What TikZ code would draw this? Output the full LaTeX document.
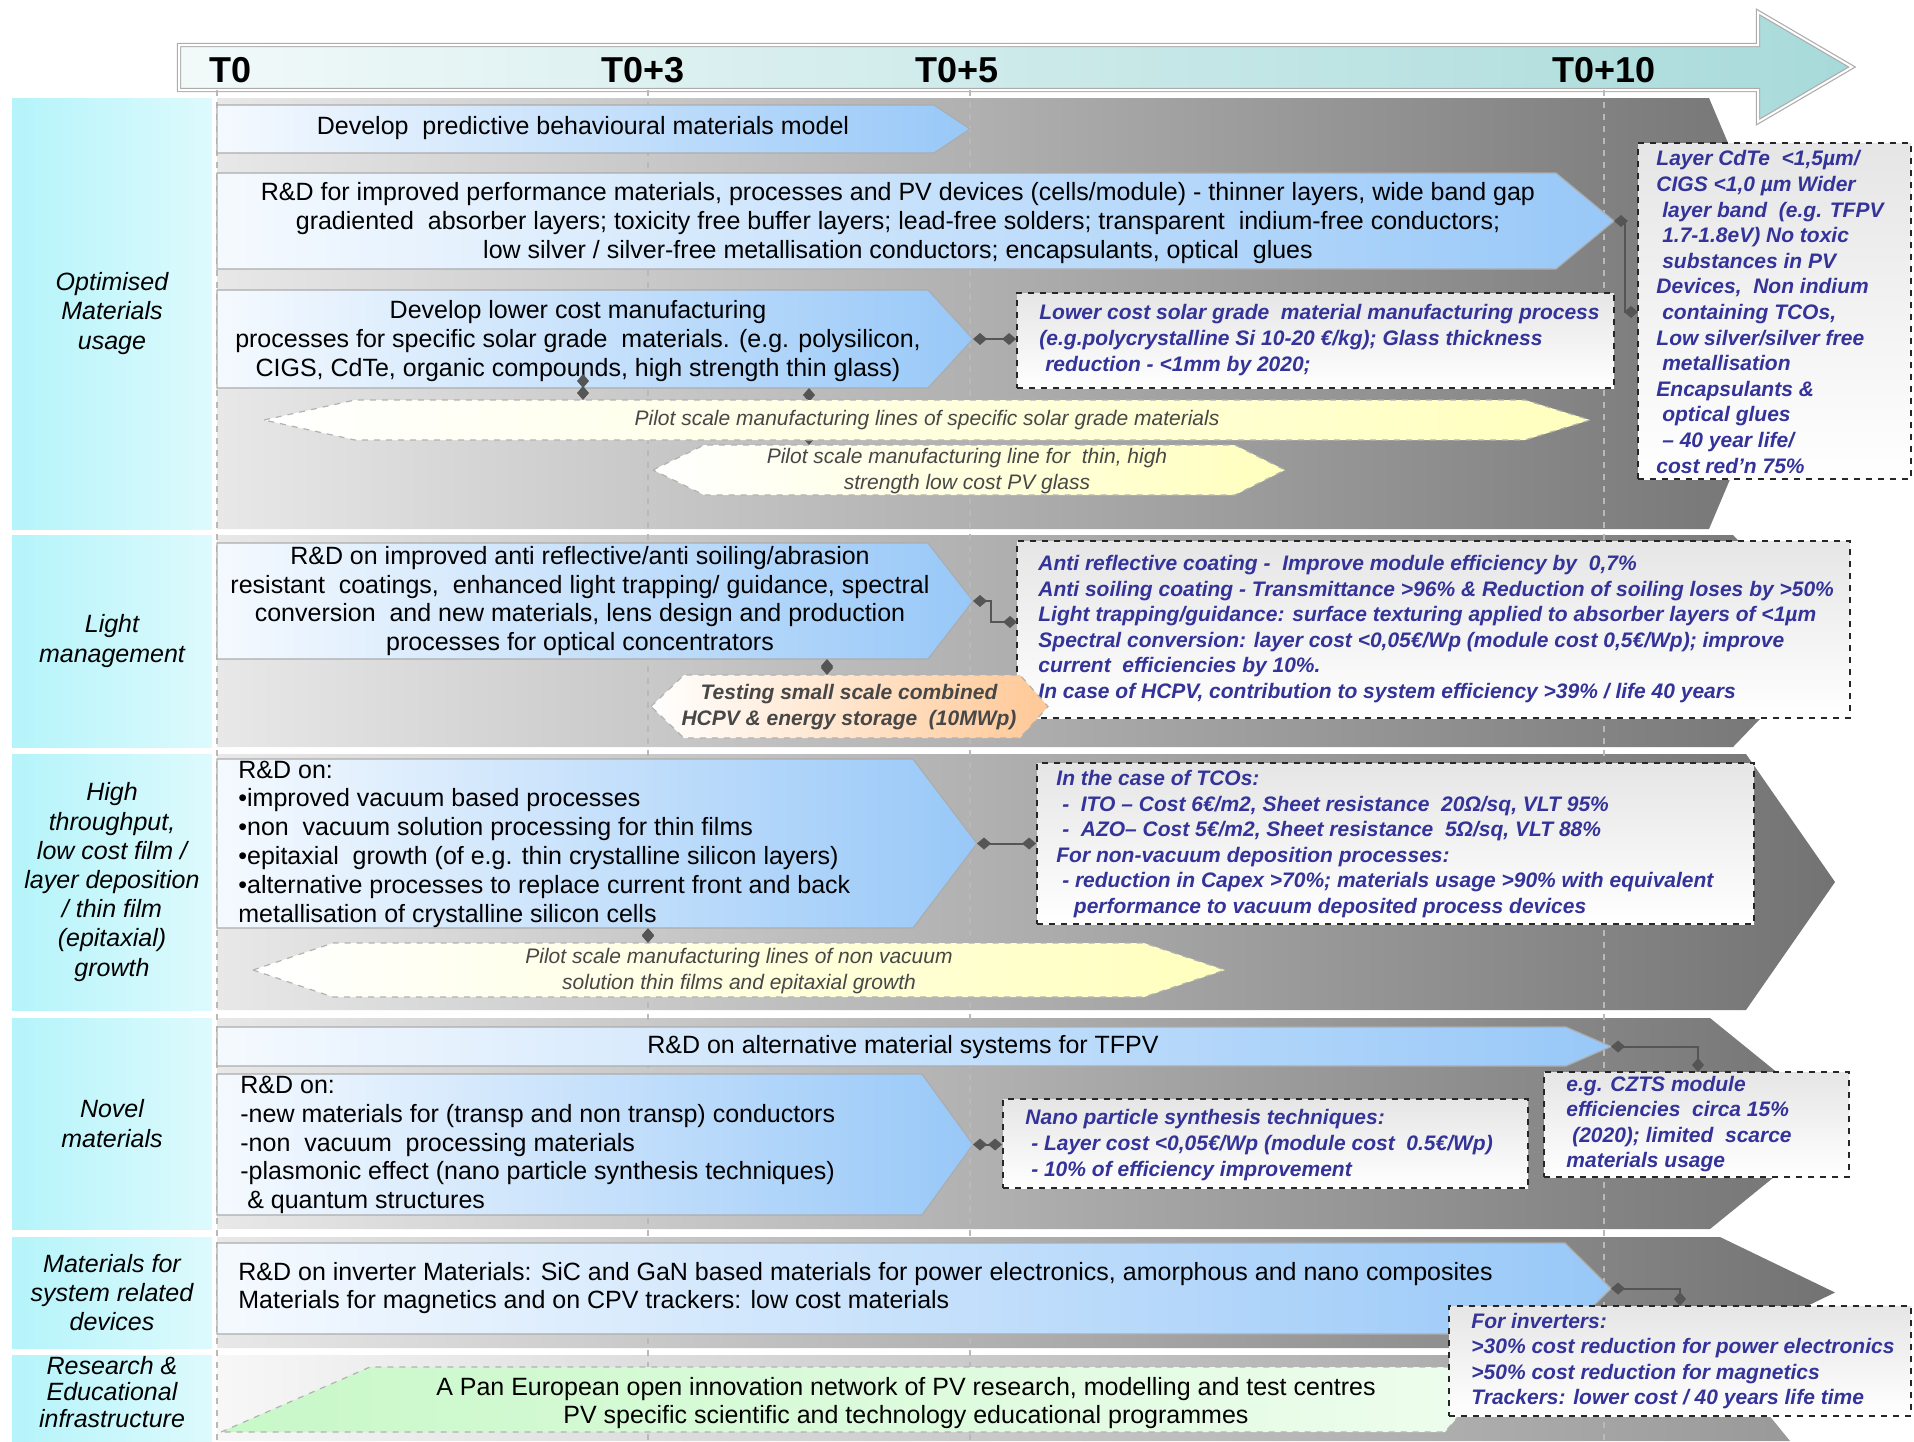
\documentclass[tikz,border=0pt]{standalone}
\usepackage{fontspec}
\setmainfont{Liberation Sans}
\usetikzlibrary{arrows.meta,fit,calc}

\definecolor{notenavy}{RGB}{51,51,153}
\definecolor{taskblue}{RGB}{152,200,248}
\definecolor{rowcyan}{RGB}{180,244,250}
\definecolor{timecyan}{RGB}{168,218,218}
\definecolor{pilotyellow}{RGB}{255,255,190}
\definecolor{testorange}{RGB}{255,200,150}
\definecolor{netgreen}{RGB}{200,248,200}
\definecolor{linkgray}{RGB}{85,85,85}

% arrow-like box: style, left x, top y, corner x, tip x, bottom y
\newcommand{\penta}[6]{\path[#1] (#2,#3) -- (#4,#3) -- (#5,{(#3+#6)/2}) -- (#4,#6) -- (#2,#6) -- cycle;}
% hexagon: style, left tip x, left corner x, right corner x, right tip x, top y, bottom y
\newcommand{\hexa}[7]{\path[#1] (#2,{(#6+#7)/2}) -- (#3,#6) -- (#4,#6) -- (#5,{(#6+#7)/2}) -- (#4,#7) -- (#3,#7) -- cycle;}

\begin{document}
\begin{tikzpicture}[x=0.5pt, y=-0.5pt,
    every node/.style={inner sep=0pt},
    timeline/.style={draw=gray!65, double=white, double distance=1pt, line width=0.6pt, left color=timecyan!15, right color=timecyan},
    tick/.style={font=\fontsize{18}{18}\selectfont\bfseries},
    band/.style={left color=black!9, right color=black!55},
    milestone/.style={draw=gray!55, dashed, line width=0.9pt},
    rowlabel/.style={left color=rowcyan, right color=rowcyan!45},
    labeltxt/.style={font=\fontsize{12.5}{14.6}\selectfont\itshape, align=center},
    task/.style={draw=gray!65, line width=0.6pt, left color=taskblue!10, right color=taskblue},
    tasktxt/.style={font=\fontsize{12.5}{14.4}\selectfont, align=center},
    tasklist/.style={tasktxt, align=left, anchor=west},
    note/.style={draw=black!85, dashed, line width=0.9pt, top color=black!10, bottom color=white},
    notetxt/.style={font=\fontsize{10.5}{12.8}\selectfont\bfseries\itshape, text=notenavy, align=left, anchor=west},
    pilot/.style={draw=gray!60, dashed, line width=0.6pt, left color=white, right color=pilotyellow},
    testing/.style={pilot, right color=testorange},
    network/.style={pilot, left color=netgreen, right color=netgreen!30},
    pilottxt/.style={font=\fontsize{10.5}{13.4}\selectfont\itshape, text=black!72, align=center},
    link/.style={draw=linkgray, line width=1pt, {Diamond[length=7pt,width=6pt]}-{Diamond[length=7pt,width=6pt]}}
]
\useasboundingbox (0,0) rectangle (1914,1441);

% time axis
\path[timeline] (179,45) -- (1758,45) -- (1758,12) -- (1852,67) -- (1758,122) -- (1758,90) -- (179,90) -- cycle;
\node[tick] (t0) at (231,70) {T0};
\node[tick] (t3) at (643,70) {T0+3};
\node[tick] (t5) at (957,70) {T0+5};
\node[tick] (t10) at (1604,70) {T0+10};

% row backgrounds
\penta{band}{217}{98}{1709}{1800}{529}
\penta{band}{217}{535}{1733}{1835}{747}
\penta{band}{217}{754}{1746}{1835}{1010}
\penta{band}{217}{1018}{1710}{1840}{1229}
\penta{band}{217}{1237}{1720}{1835}{1348}
\path[band, left color=black!3, right color=black!40] (217,1355) -- (1720,1355) -- (1790,1441) -- (217,1441) -- cycle;

\foreach \x in {217,648,970,1604}
    \draw[milestone] (\x,90) -- (\x,1441);

% row labels
\node[rowlabel, fit={(12,98) (212,529)}] (lopt) {};
\node[labeltxt] at (lopt.center) {Optimised\\Materials\\usage};
\node[rowlabel, fit={(12,535) (212,747)}] (llight) {};
\node[labeltxt] at (llight.center) {Light\\management};
\node[rowlabel, fit={(12,754) (212,1010)}] (lfilm) {};
\node[labeltxt] at (lfilm.center) {High\\throughput,\\low cost film /\\layer deposition\\/ thin film\\(epitaxial)\\growth};
\node[rowlabel, fit={(12,1018) (212,1229)}] (lnovel) {};
\node[labeltxt] at (lnovel.center) {Novel\\materials};
\node[rowlabel, fit={(12,1237) (212,1348)}] (lsys) {};
\node[labeltxt] at (lsys.center) {Materials for\\system related\\devices};
\node[rowlabel, fit={(12,1355) (212,1441)}] (lres) {};
\node[labeltxt, font=\fontsize{12.5}{13.4}\selectfont\itshape] at ([yshift=3pt]lres.center) {Research \&\\Educational\\infrastructure};

% optimised materials usage
\penta{task}{217}{105}{934}{970}{153}
\node[tasktxt] (a1) at (583,128) {Develop\ \ predictive behavioural materials model};

\penta{task}{217}{173}{1556}{1614}{269}
\coordinate (a2tip) at (1614,221);
\node[tasktxt] (a2) at (898,223) {R\&D for improved performance materials, processes and PV devices (cells/module) - thinner layers, wide band gap\\gradiented\ \ absorber layers; toxicity free buffer layers; lead-free solders; transparent\ \ indium-free conductors;\\low silver / silver-free metallisation conductors; encapsulants, optical\ \ glues};

\penta{task}{217}{290}{928}{973}{388}
\coordinate (a3tip) at (973,339);
\node[tasktxt] (a3) at (578,341) {Develop lower cost manufacturing\\processes for specific solar grade\ \ materials. (e.g. polysilicon,\\CIGS, CdTe, organic compounds, high strength thin glass)};

\node[note, fit={(1017,293) (1614,388)}] (b1) {};
\node[notetxt] (b1txt) at (1039,340) {Lower cost solar grade\ \ material manufacturing process\\(e.g.polycrystalline Si 10-20 €/kg); Glass thickness\\\ reduction - <1mm by 2020;};

\node[note, fit={(1638,143) (1911,479)}] (c1) {};
\node[notetxt] (c1txt) at (1656,312) {Layer CdTe\ \ <1,5µm/\\CIGS <1,0 µm Wider\\\ layer band\ \ (e.g. TFPV\\\ 1.7-1.8eV) No toxic\\\ substances in PV\\Devices,\ \ Non indium\\\ containing TCOs,\\Low silver/silver free\\\ metallisation\\Encapsulants \&\\\ optical glues\\\ – 40 year life/\\cost red'n 75\%};
\coordinate (c1in) at (1638,312);

\hexa{pilot}{653}{704}{1235}{1285}{445}{495}
\node[pilottxt] (y2) at (967,471) {Pilot scale manufacturing line for\ \ thin, high\\strength low cost PV glass};
\coordinate (a3e) at (809,388);
\coordinate (y2n) at (809,445);
\draw[link] (a3e) -- (y2n);

\hexa{pilot}{264}{355}{1525}{1590}{400}{440}
\node[pilottxt] (y1) at (927,420) {Pilot scale manufacturing lines of specific solar grade materials};
\coordinate (a3s) at (583,388);
\coordinate (y1n) at (583,400);
\draw[link] (a3s) -- (y1n);

\draw[link] (a2tip) -- ++(11,0) |- (c1in);
\draw[link] (a3tip) -- (a3tip -| b1.west);

% light management
\penta{task}{217}{543}{928}{973}{659}
\coordinate (a4tip) at (973,601);
\node[tasktxt] (a4) at (580,601) {R\&D on improved anti reflective/anti soiling/abrasion\\resistant\ \ coatings,\ \ enhanced light trapping/ guidance, spectral\\conversion\ \ and new materials, lens design and production\\processes for optical concentrators};

\node[note, fit={(1017,541) (1850,718)}] (b2) {};
\node[notetxt] (b2txt) at (1038,629) {Anti reflective coating -\ \ Improve module efficiency by\ \ 0,7\%\\Anti soiling coating - Transmittance >96\% \& Reduction of soiling loses by >50\%\\Light trapping/guidance: surface texturing applied to absorber layers of <1µm\\Spectral conversion: layer cost <0,05€/Wp (module cost 0,5€/Wp); improve\\current\ \ efficiencies by 10\%.\\In case of HCPV, contribution to system efficiency >39\% / life 40 years};
\coordinate (b2in) at (1017,622);
\draw[link] (a4tip) -- ++(18,0) |- (b2in);

\hexa{testing}{651}{684}{1020}{1048}{675}{738}
\node[pilottxt, font=\fontsize{10.5}{13.4}\selectfont\bfseries\itshape] (o1) at (849,707) {Testing small scale combined\\HCPV \& energy storage\ \ (10MWp)};
\coordinate (a4s) at (827,659);
\coordinate (o1n) at (827,675);
\draw[link] (a4s) -- (o1n);

% high throughput film deposition
\penta{task}{217}{759}{913}{977}{928}
\coordinate (a5tip) at (977,843.5);
\node[tasklist] (a5) at (238,844) {R\&D on:\\•improved vacuum based processes\\•non\ \ vacuum solution processing for thin films\\•epitaxial\ \ growth (of e.g. thin crystalline silicon layers)\\•alternative processes to replace current front and back\\metallisation of crystalline silicon cells};

\node[note, fit={(1037,763) (1754,924)}] (b3) {};
\node[notetxt] (b3txt) at (1056,844) {In the case of TCOs:\\\ -\ \ ITO – Cost 6€/m2, Sheet resistance\ \ 20Ω/sq, VLT 95\%\\\ -\ \ AZO– Cost 5€/m2, Sheet resistance\ \ 5Ω/sq, VLT 88\%\\For non-vacuum deposition processes:\\\ - reduction in Capex >70\%; materials usage >90\% with equivalent\\\ \ \ performance to vacuum deposited process devices};
\draw[link] (a5tip) -- (a5tip -| b3.west);

\hexa{pilot}{253}{333}{1144}{1225}{943}{997}
\node[pilottxt] (y3) at (739,971) {Pilot scale manufacturing lines of non vacuum\\solution thin films and epitaxial growth};
\coordinate (a5s) at (648,928);
\coordinate (y3n) at (648,943);
\draw[link] (a5s) -- (y3n);

% novel materials
\penta{task}{217}{1027}{1566}{1611}{1066}
\coordinate (a6tip) at (1611,1046.5);
\node[tasktxt] (a6) at (903,1047) {R\&D on alternative material systems for TFPV};

\node[note, fit={(1544,1072) (1849,1177)}] (c2) {};
\node[notetxt] (c2txt) at (1566,1124) {e.g. CZTS module\\efficiencies\ \ circa 15\%\\\ (2020); limited\ \ scarce\\materials usage};
\coordinate (c2n) at (1698,1072);
\draw[link] (a6tip) -| (c2n);

\penta{task}{217}{1074}{922}{973}{1215}
\coordinate (a7tip) at (973,1144.5);
\node[tasklist] (a7) at (240,1145) {R\&D on:\\-new materials for (transp and non transp) conductors\\-non\ \ vacuum\ \ processing materials\\-plasmonic effect (nano particle synthesis techniques)\\\ \& quantum structures};

\node[note, fit={(1003,1099) (1528,1188)}] (b4) {};
\node[notetxt] (b4txt) at (1025,1145) {Nano particle synthesis techniques:\\\ - Layer cost <0,05€/Wp (module cost\ \ 0.5€/Wp)\\\ - 10\% of efficiency improvement};
\draw[link] (a7tip) -- (a7tip -| b4.west);

% system related devices
\penta{task}{217}{1243}{1565}{1611}{1334}
\coordinate (a8tip) at (1611,1288.5);
\node[tasklist] (a8) at (238,1288) {R\&D on inverter Materials: SiC and GaN based materials for power electronics, amorphous and nano composites\\Materials for magnetics and on CPV trackers: low cost materials};

% research infrastructure
\path[network] (221,1432) -- (370,1367) -- (1500,1367) -- (1445,1432) -- cycle;
\node[tasktxt] (g1) at (906,1403) {A Pan European open innovation network of PV research, modelling and test centres\\PV specific scientific and technology educational programmes};

\node[note, fit={(1449,1306) (1911,1416)}] (c3) {};
\node[notetxt] (c3txt) at (1471,1361) {For inverters:\\>30\% cost reduction for power electronics\\>50\% cost reduction for magnetics\\Trackers: lower cost / 40 years life time};
\coordinate (c3n) at (1680,1306);
\draw[link] (a8tip) -| (c3n);

\end{tikzpicture}
\end{document}
